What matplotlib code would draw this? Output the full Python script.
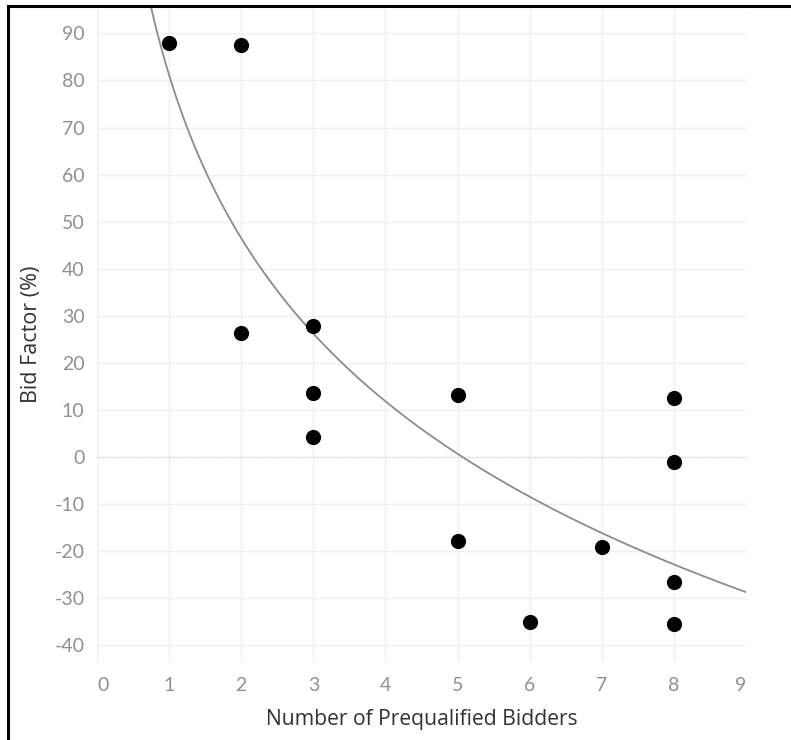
import numpy as np
import matplotlib
matplotlib.use("Agg")
import matplotlib.pyplot as plt
from matplotlib.lines import Line2D

# Data
bidders = [1, 2, 2, 3, 3, 3, 5, 5, 6, 7, 8, 8, 8, 8]
bid_factor = [88.0, 87.5, 26.3, 27.8, 13.5, 4.3, 13.2, -17.8, -35.0, -19.2, 12.6, -1.0, -26.7, -35.6]
x_ticks = [0, 1, 2, 3, 4, 5, 6, 7, 8, 9]
y_ticks = [-40, -30, -20, -10, 0, 10, 20, 30, 40, 50, 60, 70, 80, 90]

plt.rcParams['font.family'] = ['Lato', 'DejaVu Sans']

fig = plt.figure(figsize=(7.91, 7.40), dpi=100)
ax = fig.add_axes([97/791, 1 - 662/740, (746 - 97)/791, (662 - 8)/740])

xlim = (0, 9)
ylim = (-43.6, 95.4)

# grid
for xv in x_ticks:
    ax.axvline(xv, color='#efefef', lw=0.9, zorder=0)
for yv in y_ticks:
    if yv == 0:
        ax.axhline(0, color='#c8c8c8', lw=0.9, ls=(0, (1, 1)), zorder=0)
    else:
        ax.axhline(yv, color='#efefef', lw=0.9, zorder=0)

# logarithmic trend line (least squares fit on ln x)
xa = np.array(bidders, dtype=float)
ya = np.array(bid_factor, dtype=float)
b, a = np.polyfit(np.log(xa), ya, 1)
xs = np.linspace(0.5, 9.0, 400)
ax.plot(xs, a + b * np.log(xs), color='#8c8c8c', lw=1.3, zorder=2)

ax.scatter(bidders, bid_factor, s=120, color='black', zorder=3, linewidths=0)

ax.set_xlim(*xlim)
ax.set_ylim(*ylim)
for s in ax.spines.values():
    s.set_visible(False)
ax.tick_params(length=0)

ax.set_xticks(x_ticks)
ax.set_xticklabels([str(v) for v in x_ticks])
ax.set_yticks(y_ticks)
ax.set_yticklabels([str(v) for v in y_ticks])
ax.tick_params(axis='x', pad=11, labelsize=14, labelcolor='#909090')
ax.tick_params(axis='y', pad=9, labelsize=14, labelcolor='#909090')
xl = ax.get_xticklabels()
xl[0].set_horizontalalignment('left')
xl[-1].set_horizontalalignment('right')

fig.text(421.5/791, 1 - 720/740, 'Number of Prequalified Bidders', ha='center', va='center',
         fontsize=15.2, color='#333333', family=['Open Sans', 'DejaVu Sans'])
fig.text(31/791, 1 - 334/740, 'Bid Factor (%)', ha='center', va='center', rotation=90,
         fontsize=15.5, color='#333333', family=['Open Sans', 'DejaVu Sans'])

# outer border (left and top)
fig.add_artist(Line2D([8/791, 8/791], [0, 1 - 6/740], transform=fig.transFigure, color='black', lw=2.2))
fig.add_artist(Line2D([8/791, 1], [1 - 6/740, 1 - 6/740], transform=fig.transFigure, color='black', lw=2.2))

fig.savefig('out.png', dpi=100, facecolor='white')
